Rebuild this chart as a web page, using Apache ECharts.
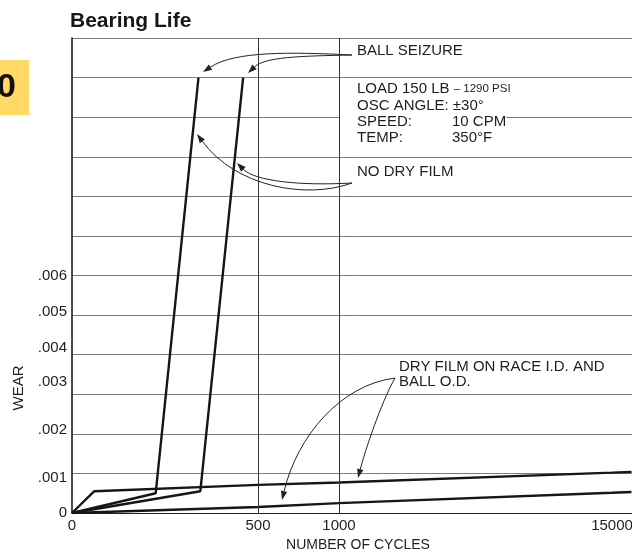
<!DOCTYPE html>
<html><head><meta charset="utf-8">
<script src="https://cdn.jsdelivr.net/npm/echarts@6/dist/echarts.min.js"></script>
<style>html,body{margin:0;padding:0;background:#fff}#c{width:632px;height:552px}</style>
</head><body><div id="c"></div>
<script>
// ---- data ----
const xTickCycles = [0, 500, 1000, 15000];
const yTickLabels = ['0', '.001', '.002', '.003', '.004', '.005', '.006'];
const noFilmA_cycles = [0, 225, 340];
const noFilmA_wear = [0, 0.0005, 0.011];
const noFilmB_cycles = [0, 345, 460];
const noFilmB_wear = [0, 0.00055, 0.011];
const dryFilmUpper_cycles = [0, 60, 500, 1000, 15000, 16000];
const dryFilmUpper_wear = [0, 0.00055, 0.00071, 0.00077, 0.00102, 0.00104];
const dryFilmLower_cycles = [0, 500, 1000, 15000, 16000];
const dryFilmLower_wear = [0, 0.00015, 0.00025, 0.00051, 0.00053];

// ---- layout: vertical nudge (px, up positive) of each y tick label as printed in the original ----
const Y_LABEL_NUDGE = [0, -4, 4, 12, 7, 3, 0];

// ---- piecewise (broken) cycle scale of the original chart ----
const KNOT_C = [0, 500, 1000, 15000];
const KNOT_U = [0, 186, 267, 540];
function toU(c) {
  let i = 0;
  while (i < KNOT_C.length - 2 && c > KNOT_C[i + 1]) i++;
  return KNOT_U[i] + (c - KNOT_C[i]) * (KNOT_U[i + 1] - KNOT_U[i]) / (KNOT_C[i + 1] - KNOT_C[i]);
}
function fromU(u) {
  let i = 0;
  while (i < KNOT_U.length - 2 && u > KNOT_U[i + 1]) i++;
  return KNOT_C[i] + (u - KNOT_U[i]) * (KNOT_C[i + 1] - KNOT_C[i]) / (KNOT_U[i + 1] - KNOT_U[i]);
}
function pairs(cs, ws) { return cs.map((c, i) => [toU(c), ws[i]]); }

const FONT = '"Liberation Sans", Arial, Helvetica, sans-serif';
const INK = '#161616';

function arrow(p) {
  const [x1, y1, a, b, c, d, x2, y2] = p;
  const ang = Math.atan2(y2 - d, x2 - c);
  const L = 9, W = 3.2;
  const bx = x2 - L * Math.cos(ang), by = y2 - L * Math.sin(ang);
  const px = -Math.sin(ang) * W, py = Math.cos(ang) * W;
  return [
    { type: 'bezierCurve', z: 100, shape: { x1, y1, cpx1: a, cpy1: b, cpx2: c, cpy2: d, x2: bx, y2: by },
      style: { stroke: '#222', lineWidth: 1, fill: null } },
    { type: 'polygon', z: 100, shape: { points: [[x2, y2], [bx + px, by + py], [bx - px, by - py]] },
      style: { fill: '#222' } }
  ];
}
function txt(x, y, text, extra) {
  return Object.assign({ type: 'text', z: 101, x, y,
    style: { text, font: '15px ' + FONT, fill: '#1e1e1e', textVerticalAlign: 'middle' } }, extra || {});
}

const graphics = [].concat(
  [{ type: 'rect', z: 100, shape: { x: 0, y: 60, width: 29, height: 55 }, style: { fill: '#FFD966' } },
   { type: 'text', z: 101, x: 16, y: 88, style: { text: '0', font: 'bold 34px ' + FONT, fill: '#111', textAlign: 'right', textVerticalAlign: 'middle' } },
   { type: 'rect', z: 100, shape: { x: 340, y: 112, width: 166, height: 10 }, style: { fill: '#fff' } },
   txt(357, 51, 'BALL SEIZURE'),
   { type: 'text', z: 101, x: 357, y: 89, style: { text: '{a|LOAD 150 LB }{b|– 1290 PSI}', textVerticalAlign: 'middle',
       rich: { a: { font: '15px ' + FONT, fill: '#1e1e1e' }, b: { font: '11.5px ' + FONT, fill: '#1e1e1e' } } } },
   txt(357, 106, 'OSC ANGLE: ±30°'),
   txt(357, 122, 'SPEED:'), txt(452, 122, '10 CPM'),
   txt(357, 138, 'TEMP:'), txt(452, 138, '350°F'),
   txt(357, 172, 'NO DRY FILM'),
   txt(399, 367, 'DRY FILM ON RACE I.D. AND'),
   txt(399, 382, 'BALL O.D.'),
   { type: 'text', z: 101, x: 19, y: 388, rotation: Math.PI / 2,
     style: { text: 'WEAR', font: '15px ' + FONT, fill: '#1e1e1e', textAlign: 'center', textVerticalAlign: 'middle' } }
  ],
  arrow([352, 55, 290, 52, 235, 51, 203, 72]),
  arrow([352, 55, 300, 56, 265, 57, 248, 73]),
  arrow([352, 183, 305, 200, 235, 186, 197, 134]),
  arrow([352, 183, 300, 186, 255, 181, 237, 163]),
  arrow([395, 378, 340, 385, 297, 437, 282, 500]),
  arrow([395, 378, 385, 395, 368, 440, 358, 478])
);

const lineStyle = { color: INK, width: 2.4 };
function series(name, data) {
  return { name, type: 'line', data, showSymbol: false, symbol: 'none', lineStyle, z: 3, silent: true };
}
const s1 = series('No dry film A', pairs(noFilmA_cycles, noFilmA_wear));
s1.markLine = {
  silent: true, symbol: ['none', 'none'], label: { show: false },
  lineStyle: { color: '#333', width: 1, type: 'solid' },
  data: [{ xAxis: toU(500) }, { xAxis: toU(1000) }]
};

// rich styles used to nudge the y tick labels
const yRich = {};
Y_LABEL_NUDGE.forEach((d, i) => {
  yRich['n' + i] = { fontSize: 15, color: '#1e1e1e', fontFamily: FONT,
    padding: d >= 0 ? [0, 0, 2 * d, 0] : [-2 * d, 0, 0, 0] };
});

const chart = echarts.init(document.getElementById('c'));
chart.setOption({
  animation: false,
  backgroundColor: '#fff',
  textStyle: { fontFamily: FONT },
  title: { text: 'Bearing Life', left: 70, top: 11, padding: 0,
    textStyle: { fontFamily: FONT, fontSize: 21, fontWeight: 'bold', color: '#161616' } },
  grid: { left: 72, top: 38, width: 580, height: 475, containLabel: false, outerBoundsMode: 'none' },
  xAxis: {
    type: 'value', min: 0, max: 580,
    name: 'NUMBER OF CYCLES', nameLocation: 'middle', nameGap: 25,
    nameTextStyle: { fontSize: 14, color: '#1e1e1e', fontFamily: FONT, padding: [0, 8, 0, 0] },
    axisLine: { show: true, lineStyle: { color: '#222', width: 1 } },
    axisTick: { show: false },
    splitLine: { show: false },
    axisLabel: { customValues: xTickCycles.map(toU), formatter: v => String(Math.round(fromU(v))),
      fontSize: 15, color: '#1e1e1e', margin: 5, fontFamily: FONT }
  },
  yAxis: {
    type: 'value', min: 0, max: 0.012, interval: 0.001,
    axisLine: { show: true, lineStyle: { color: '#111', width: 1.5 } },
    axisTick: { show: false },
    splitLine: { show: true, lineStyle: { color: '#7c7c7c', width: 1 } },
    axisLabel: {
      formatter: v => { const n = Math.round(v * 1000); return n < yTickLabels.length ? '{n' + n + '|' + yTickLabels[n] + '}' : ''; },
      rich: yRich, fontSize: 15, color: '#1e1e1e', margin: 5, fontFamily: FONT }
  },
  series: [
    s1,
    series('No dry film B', pairs(noFilmB_cycles, noFilmB_wear)),
    series('Dry film upper', pairs(dryFilmUpper_cycles, dryFilmUpper_wear)),
    series('Dry film lower', pairs(dryFilmLower_cycles, dryFilmLower_wear))
  ],
  graphic: graphics
});
</script></body></html>
